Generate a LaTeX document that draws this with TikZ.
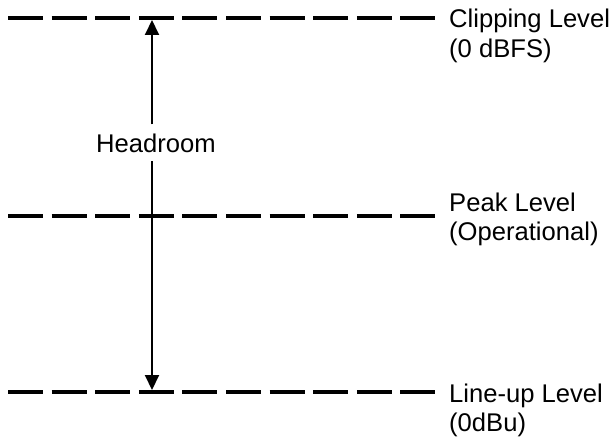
\documentclass[tikz,border=0pt]{standalone}
\usepackage{fontspec}
\setmainfont{Liberation Sans}
\usetikzlibrary{arrows.meta}
\begin{document}
\begin{tikzpicture}[x=1pt,y=-1pt,
  level/.style={line width=3.2pt,dash pattern=on 35pt off 8.6pt},
  dim/.style={line width=2pt,-{Triangle[width=14pt,length=15pt]}},
  lbl/.style={anchor=base west,inner sep=0pt,font=\fontsize{25.6}{29}\selectfont},
  every node/.style={text=black}]
\useasboundingbox (0,0) rectangle (612,436);
% level lines
\coordinate (c0) at (8,18);   \coordinate (c1) at (435,18);
\coordinate (p0) at (8,216);  \coordinate (p1) at (435,216);
\coordinate (l0) at (8,392);  \coordinate (l1) at (435,392);
\draw[level] (c0) -- (c1);
\draw[level] (p0) -- (p1);
\draw[level] (l0) -- (l1);
% labels
\node[lbl] (clipA) at (449,28) {Clipping Level};
\node[lbl] (clipB) at (449,57) {(0 dBFS)};
\node[lbl] (peakA) at (449,211) {Peak Level};
\node[lbl] (peakB) at (449,240) {(Operational)};
\node[lbl] (lineA) at (449,402) {Line-up Level};
\node[lbl] (lineB) at (449,431) {(0dBu)};
% headroom arrow
\coordinate (atop) at (152,20);
\coordinate (abot) at (152,390);
\node[lbl,anchor=base west,inner ysep=9pt] (head) at (96,152) {Headroom};
\path (head.north -| atop) coordinate (hn);
\path (head.south -| atop) coordinate (hs);
\draw[dim] (hn) -- (atop);
\draw[dim] (hs) -- (abot);
\end{tikzpicture}
\end{document}
